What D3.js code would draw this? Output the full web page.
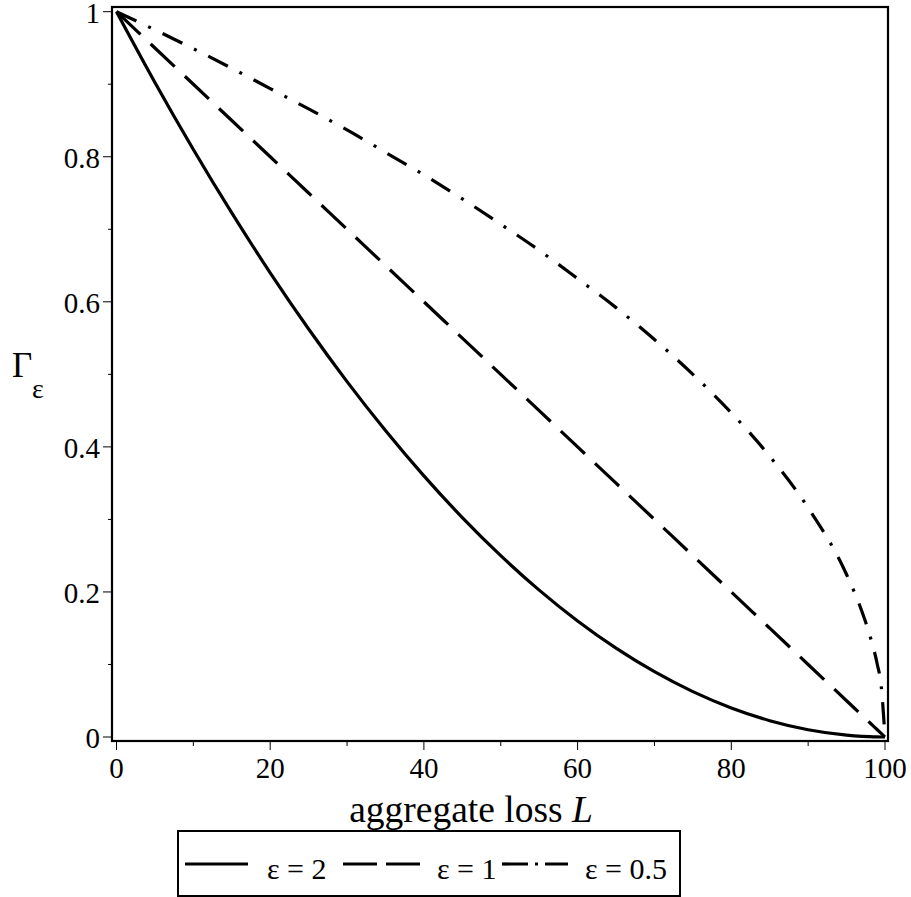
<!DOCTYPE html>
<html>
<head>
<meta charset="utf-8">
<script src="https://cdn.jsdelivr.net/npm/d3@7"></script>
<style>
html,body{margin:0;padding:0;background:#fff;}
svg{display:block;}
svg text{font-family:"Liberation Serif","Times New Roman",serif;fill:#000;}
</style>
</head>
<body>
<svg id="chart" width="911" height="897"></svg>
<script>
// aggregate loss L (x values)
const lossL = [0,5,10,15,20,25,30,35,40,45,50,55,60,65,70,75,80,85,90,95,97,98,99,99.5,100];
// Gamma_eps for eps = 2
const gammaEps2 = [1,0.9025,0.81,0.7225,0.64,0.5625,0.49,0.4225,0.36,0.3025,0.25,0.2025,0.16,0.1225,0.09,0.0625,0.04,0.0225,0.01,0.0025,0.0009,0.0004,0.0001,0.00003,0];
// Gamma_eps for eps = 1
const gammaEps1 = [1,0.95,0.9,0.85,0.8,0.75,0.7,0.65,0.6,0.55,0.5,0.45,0.4,0.35,0.3,0.25,0.2,0.15,0.1,0.05,0.03,0.02,0.01,0.005,0];
// Gamma_eps for eps = 0.5
const gammaEps05 = [1,0.975,0.949,0.922,0.894,0.866,0.837,0.806,0.775,0.742,0.707,0.671,0.632,0.592,0.548,0.5,0.447,0.387,0.316,0.224,0.173,0.141,0.1,0.071,0];
const seriesNames = ["ε = 2","ε = 1","ε = 0.5"];
const xTicks = [0,20,40,60,80,100];
const xMinorTicks = [10,30,50,70,90];
const yTicks = [0,0.2,0.4,0.6,0.8,1];
const yTickLabels = ["0","0.2","0.4","0.6","0.8","1"];
const yMinorTicks = [0.1,0.3,0.5,0.7,0.9];

const FONT = '"Liberation Serif","Times New Roman",serif';
const dashes = [null, "33,14", "22,13,3,13"];
const seriesVals = [gammaEps2, gammaEps1, gammaEps05];

const svg = d3.select("#chart");
const x = d3.scaleLinear().domain([0,100]).range([116.5,885]);
const y = d3.scaleLinear().domain([0,1]).range([737,11.7]);

const frame = {x0:112, x1:888, y0:7, y1:741};

// frame
svg.append("rect")
  .attr("x",frame.x0).attr("y",frame.y0)
  .attr("width",frame.x1-frame.x0).attr("height",frame.y1-frame.y0)
  .attr("fill","none").attr("stroke","#000").attr("stroke-width",2.2);

// y ticks
const gy = svg.append("g");
gy.selectAll("line.maj").data(yTicks).join("line")
  .attr("class","maj")
  .attr("x1",frame.x0-9).attr("x2",frame.x0)
  .attr("y1",d=>y(d)).attr("y2",d=>y(d))
  .attr("stroke","#000").attr("stroke-width",1);
gy.selectAll("line.min").data(yMinorTicks).join("line")
  .attr("class","min")
  .attr("x1",frame.x0-4).attr("x2",frame.x0)
  .attr("y1",d=>y(d)).attr("y2",d=>y(d))
  .attr("stroke","#000").attr("stroke-width",1);
gy.selectAll("text").data(yTicks).join("text")
  .attr("x",frame.x0-12).attr("y",d=>y(d)+11)
  .attr("text-anchor","end")
  .attr("font-family",FONT)
  .attr("font-size",29)
  .text((d,i)=>yTickLabels[i]);

// x ticks
const gx = svg.append("g");
gx.selectAll("line.maj").data(xTicks).join("line")
  .attr("class","maj")
  .attr("x1",d=>x(d)).attr("x2",d=>x(d))
  .attr("y1",frame.y1).attr("y2",frame.y1+9)
  .attr("stroke","#000").attr("stroke-width",1);
gx.selectAll("line.min").data(xMinorTicks).join("line")
  .attr("class","min")
  .attr("x1",d=>x(d)).attr("x2",d=>x(d))
  .attr("y1",frame.y1).attr("y2",frame.y1+5)
  .attr("stroke","#000").attr("stroke-width",1);
gx.selectAll("text").data(xTicks).join("text")
  .attr("x",d=>x(d)).attr("y",778)
  .attr("text-anchor","middle")
  .attr("font-family",FONT)
  .attr("font-size",29)
  .text(d=>d);

// axis labels
const xl = svg.append("text").attr("x",471).attr("y",822)
  .attr("text-anchor","middle").attr("font-family",FONT).attr("font-size",37.5);
xl.append("tspan").text("aggregate loss ");
xl.append("tspan").attr("font-style","italic").text("L");

const yl = svg.append("text").attr("x",12).attr("y",377).attr("font-family",FONT).attr("font-size",35);
yl.append("tspan").text("Γ");
yl.append("tspan").attr("x",32).attr("y",398).attr("font-size",28).text("ε");

// curves
const line = d3.line().x((d,i)=>x(lossL[i])).y(d=>y(d)).curve(d3.curveMonotoneX);
seriesVals.forEach((vals,k)=>{
  svg.append("path")
    .attr("d",line(vals))
    .attr("fill","none").attr("stroke","#000")
    .attr("stroke-width",3.2)
    .attr("stroke-dasharray",dashes[k])
    .attr("stroke-linejoin","round");
});

// legend
svg.append("rect").attr("x",178).attr("y",831).attr("width",502).attr("height",65)
  .attr("fill","none").attr("stroke","#000").attr("stroke-width",2);
const legItems = [
  {x1:185, x2:248, tx:267},
  {x1:343, x2:420, tx:437},
  {x1:502, x2:568, tx:585}
];
const legDash = [null,"34,9","26,7,3,7"];
legItems.forEach((it,k)=>{
  svg.append("line").attr("x1",it.x1).attr("x2",it.x2).attr("y1",864).attr("y2",864)
    .attr("stroke","#000").attr("stroke-width",3.2).attr("stroke-dasharray",legDash[k]);
  svg.append("text").attr("x",it.tx).attr("y",879).attr("font-family",FONT)
    .attr("font-size",30).attr("xml:space","preserve").text(seriesNames[k]);
});
</script>
</body>
</html>
